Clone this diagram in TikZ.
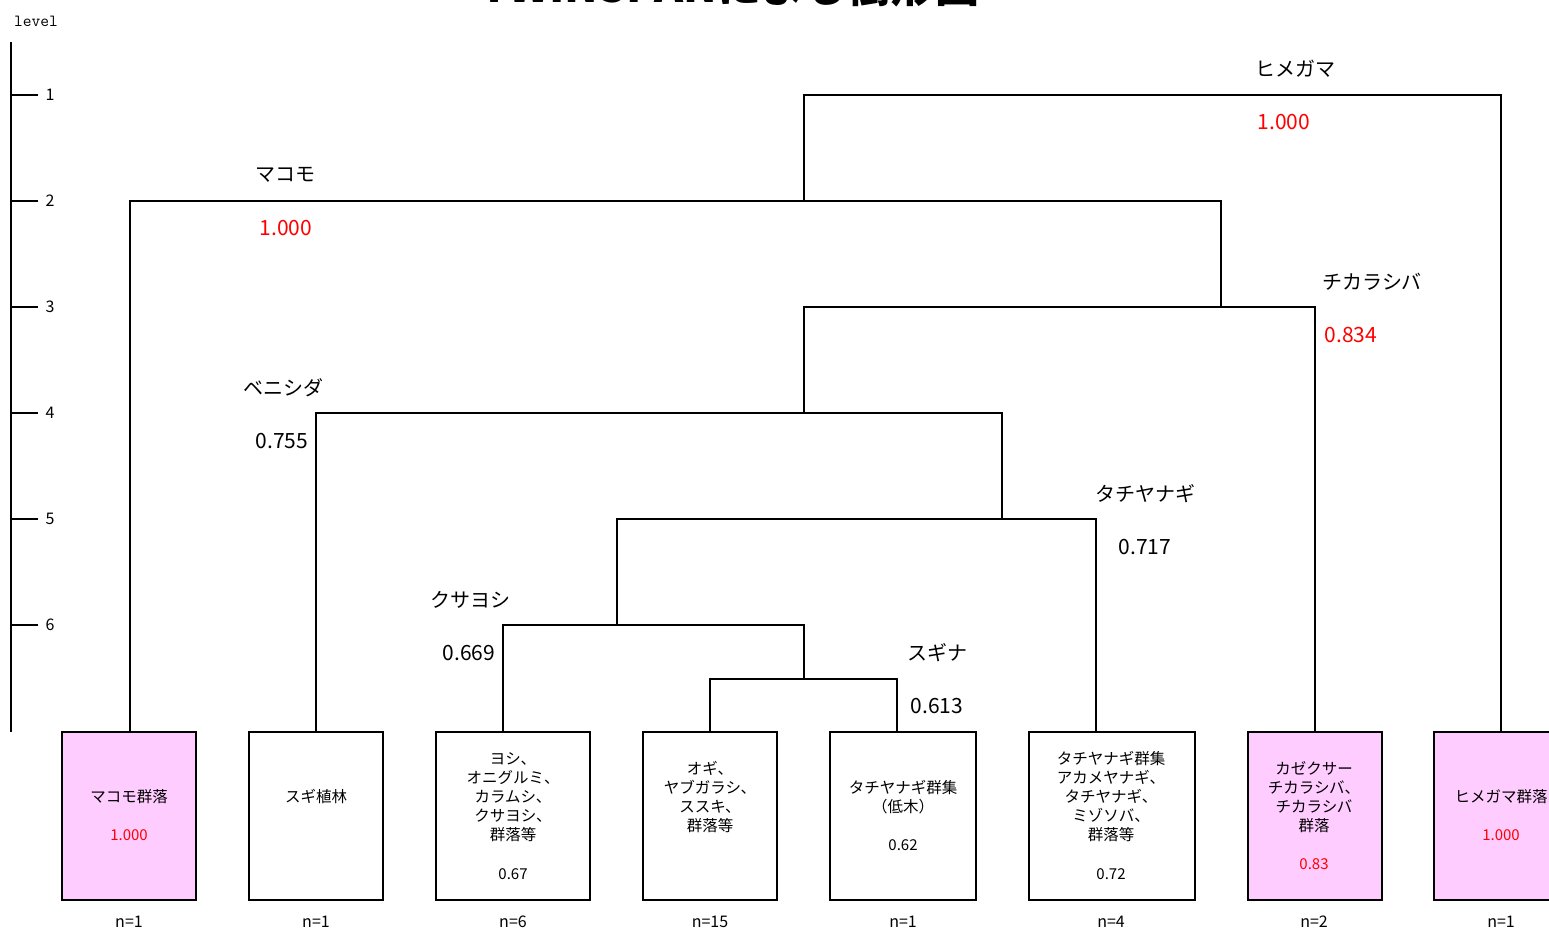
\documentclass[tikz,border=0pt]{standalone}
\usepackage{fontspec}
\setmainfont{Noto Sans CJK JP}
\newfontfamily\axisfont{Latin Modern Mono}
\definecolor{pinkbox}{HTML}{FFCCFF}
\definecolor{redval}{HTML}{FF0000}
\tikzset{
  tree/.style={line width=1.4pt, line join=miter},
  leafbox/.style={draw, line width=1.8pt, minimum height=168pt, inner sep=0pt},
  pinkleaf/.style={leafbox, fill=pinkbox},
  splitlab/.style={font=\fontsize{20}{22}\selectfont, inner sep=0pt},
  splitval/.style={font=\fontsize{21}{23}\selectfont, inner sep=0pt},
  boxtxt/.style={font=\fontsize{15.5}{19}\selectfont, align=center, inner sep=0pt},
  boxval/.style={font=\fontsize{15}{17}\selectfont, inner sep=0pt},
  nlab/.style={font=\fontsize{16}{18}\selectfont, inner sep=0pt},
  axislab/.style={font=\axisfont\fontsize{17}{19}\selectfont, inner sep=0pt}
}
\begin{document}
\begin{tikzpicture}[x=1pt,y=-1pt]
\useasboundingbox (0,0) rectangle (1549,930);
% title (cut off at the top, as in the reference)
\node[font=\bfseries\fontsize{44}{48}\selectfont, anchor=base, inner sep=0pt] (title) at (730,2) {TWINSPANによる樹形図};
% axis
\node[axislab, anchor=west] (lev) at (14,21) {level};
\coordinate (ax0) at (11,42);
\coordinate (ax1) at (11,732);
\draw[line width=1.5pt] (ax0) -- (ax1);
\foreach \i/\yy in {1/95,2/201,3/307,4/413,5/519,6/625}{
  \coordinate (tk\i) at (11,\yy);
  \coordinate (te\i) at (38,\yy);
  \node[inner sep=0pt, font=\rmfamily\fontsize{16}{18}\selectfont] (al\i) at (50,\yy) {\i};
  \draw[line width=1.2pt] (tk\i) -- (te\i);
}
% leaf boxes
\node[pinkleaf, minimum width=134pt] (b1) at (129,816) {};
\node[leafbox, minimum width=134pt] (b2) at (316,816) {};
\node[leafbox, minimum width=154pt] (b3) at (513,816) {};
\node[leafbox, minimum width=134pt] (b4) at (710,816) {};
\node[leafbox, minimum width=146pt] (b5) at (903,816) {};
\node[leafbox, minimum width=166pt] (b6) at (1112,816) {};
\node[pinkleaf, minimum width=134pt] (b7) at (1315,816) {};
\node[pinkleaf, minimum width=134pt] (b8) at (1501,816) {};
% box texts
\node[boxtxt] (t1) at (129,797) {マコモ群落};
\node[boxval, text=redval] (v1) at (129,835) {1.000};
\node[boxtxt] (t2) at (316,797) {スギ植林};
\node[boxtxt] (t3) at (513,797) {ヨシ、\\オニグルミ、\\カラムシ、\\クサヨシ、\\群落等};
\node[boxval] (v3) at (513,874) {0.67};
\node[boxtxt] (t4) at (710,797.5) {オギ、\\ヤブガラシ、\\ススキ、\\群落等};
\node[boxtxt] (t5) at (903,797.5) {タチヤナギ群集\\（低木）};
\node[boxval] (v5) at (903,845) {0.62};
\node[boxtxt] (t6) at (1111,797) {タチヤナギ群集\\アカメヤナギ、\\タチヤナギ、\\ミゾソバ、\\群落等};
\node[boxval] (v6) at (1111,874) {0.72};
\node[boxtxt] (t7) at (1314,797.5) {カゼクサー\\チカラシバ、\\チカラシバ\\群落};
\node[boxval, text=redval] (v7) at (1314,864) {0.83};
\node[boxtxt] (t8) at (1501,797) {ヒメガマ群落};
\node[boxval, text=redval] (v8) at (1501,835) {1.000};
% n labels
\node[nlab] (n1) at (129,922) {n=1};
\node[nlab] (n2) at (316,922) {n=1};
\node[nlab] (n3) at (513,922) {n=6};
\node[nlab] (n4) at (710,922) {n=15};
\node[nlab] (n5) at (903,922) {n=1};
\node[nlab] (n6) at (1111,922) {n=4};
\node[nlab] (n7) at (1314,922) {n=2};
\node[nlab] (n8) at (1501,922) {n=1};
% junctions
\coordinate (k7) at (804,679);
\coordinate (k6) at (617,625);
\coordinate (k5) at (1002,519);
\coordinate (k4) at (804,413);
\coordinate (k3) at (1221,307);
\coordinate (k2) at (804,201);
\coordinate (k1) at (804,95);
% dendrogram
\draw[tree] (b4.north) |- (k7) -| ([xshift=-6pt]b5.north);
\draw[tree] ([xshift=-10pt]b3.north) |- (k7 |- k6) -- (k7);
\draw[tree] (k6) |- (k5) -| ([xshift=-16pt]b6.north);
\draw[tree] (b2.north) |- (k5 |- k4) -- (k5);
\draw[tree] (k4) |- (k3) -| (b7.north);
\draw[tree] ([xshift=1pt]b1.north) |- (k3 |- k2) -- (k3);
\draw[tree] (k2) -- (k1) -| (b8.north);
% split labels
\node[splitlab] (l1) at (1295,69) {ヒメガマ};
\node[splitval, text=redval] (s1) at (1284,122) {1.000};
\node[splitlab] (l2) at (285,175) {マコモ};
\node[splitval, text=redval] (s2) at (286,228) {1.000};
\node[splitlab] (l3) at (1372,282) {チカラシバ};
\node[splitval, text=redval] (s3) at (1351,335) {0.834};
\node[splitlab] (l4) at (283,388) {ベニシダ};
\node[splitval] (s4) at (282,441) {0.755};
\node[splitlab] (l5) at (1145,494) {タチヤナギ};
\node[splitval] (s5) at (1145,547) {0.717};
\node[splitlab] (l6) at (470,600) {クサヨシ};
\node[splitval] (s6) at (469,653) {0.669};
\node[splitlab] (l7) at (937,653) {スギナ};
\node[splitval] (s7) at (937,706) {0.613};
\end{tikzpicture}
\end{document}
